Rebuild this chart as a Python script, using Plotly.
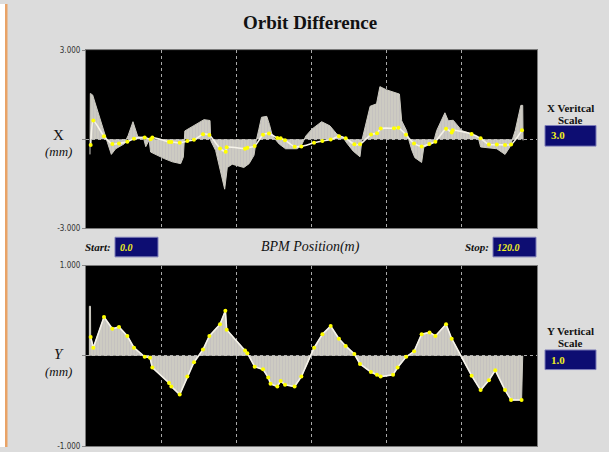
import plotly.graph_objects as go

W, H = 609, 452

# ---------------- data ----------------
# X plane: BPM readings (position m, difference mm)
x_bpm_pos = [1.24, 1.95, 4.79, 7.01, 8.78, 11.0, 12.77, 15.61, 17.2, 17.65,
             22.09, 22.71, 24.93, 26.96, 28.74, 31.13, 32.82, 35.66, 37.17, 37.43,
             42.31, 42.93, 44.88, 47.1, 48.7, 50.91, 51.8, 52.95, 55.53, 57.3,
             60.67, 62.89, 65.11, 67.32, 69.1, 71.4, 72.91, 75.84, 77.43, 78.41,
             81.96, 83.11, 85.15, 87.28, 89.32, 91.36, 92.96, 95.8, 97.3, 97.57,
             102.6, 105.0, 107.2, 109.3, 111.5, 113.1, 116.0]
x_bpm_diff = [-0.19, 0.63, 0.10, -0.16, -0.14, -0.08, 0.02, 0.06, 0.0, 0.06,
              -0.09, -0.09, -0.12, -0.06, -0.02, 0.17, 0.14, -0.31, -0.42, -0.27,
              -0.32, -0.29, -0.23, 0.15, 0.19, 0.04, 0.03, -0.03, -0.25, -0.24,
              -0.12, -0.06, -0.01, 0.10, 0.03, -0.17, -0.17, 0.16, 0.20, 0.36,
              0.37, 0.39, 0.15, -0.14, -0.24, -0.16, -0.08, 0.35, 0.23, 0.30,
              0.18, 0.03, -0.18, -0.18, -0.19, -0.18, 0.30]

# X plane: gray difference envelope
x_env_pos = [1.06, 1.15, 1.77, 2.84, 3.9, 4.97, 5.68, 6.74, 7.9, 10.1,
             11.2, 12.5, 13.2, 13.8, 15.3, 15.9, 16.8, 17.2, 20.8, 23.0,
             25.2, 25.9, 26.3, 29.6, 31.4, 33.0, 33.2, 34.5, 35.8, 36.9,
             37.6, 38.9, 42.0, 43.4, 44.7, 45.3, 46.0, 46.7, 48.1, 48.8,
             49.6, 51.4, 53.1, 56.2, 57.3, 58.5, 60.1, 62.7, 64.9, 66.7,
             68.5, 69.4, 71.1, 72.9, 73.4, 74.0, 75.6, 77.3, 78.2, 80.0,
             83.4, 84.0, 85.3, 85.9, 86.7, 87.5, 89.3, 89.9, 92.4, 93.3,
             95.5, 96.4, 97.7, 100.0, 102.6, 104.4, 105.0, 109.3, 111.5, 112.8,
             113.4, 114.2, 115.7, 116.2, 116.3]
x_env_diff = [-0.51, 1.54, 1.49, 1.05, 0.55, 0.15, -0.10, -0.51, -0.32, -0.16,
              0.12, 0.59, 0.28, 0.08, 0.04, -0.25, -0.03, -0.43, -0.65, -0.76,
              -0.82, -0.60, 0.28, 0.52, 0.66, 0.63, -0.05, -0.38, -1.04, -1.68,
              -0.95, -0.84, -0.95, -0.82, -0.54, -0.05, 0.34, 0.74, 0.77, 0.50,
              0.11, -0.16, -0.32, -0.32, -0.21, 0.11, 0.34, 0.59, 0.45, 0.18,
              0.04, -0.13, -0.40, -0.59, -0.04, 0.29, 1.11, 1.19, 1.77, 1.66,
              1.52, 0.62, 0.29, -0.02, -0.37, -0.62, -0.78, -0.26, -0.13, 0.29,
              0.89, 0.62, 0.64, 0.29, 0.18, 0.04, -0.26, -0.32, -0.51, -0.26,
              -0.04, 0.29, 1.14, 1.14, -0.04]

# Y plane: BPM readings
y_bpm_pos = [1.24, 1.95, 4.79, 7.01, 8.78, 11.0, 12.77, 15.61, 17.03, 17.65,
             22.09, 22.71, 24.93, 26.96, 28.74, 31.13, 32.82, 35.66, 37.08, 37.43,
             42.31, 42.93, 44.88, 47.1, 48.5, 49.1, 50.9, 51.8, 52.95, 55.5,
             57.3, 60.7, 62.9, 65.1, 67.3, 69.1, 71.4, 72.9, 75.8, 77.4,
             78.4, 81.7, 82.9, 85.2, 87.3, 89.3, 91.4, 92.96, 95.8, 97.3,
             102.6, 105.0, 107.2, 108.9, 111.5, 113.1, 115.9]
y_bpm_diff = [0.21, 0.09, 0.43, 0.30, 0.32, 0.22, 0.09, -0.01, -0.02, -0.13,
              -0.30, -0.34, -0.43, -0.23, -0.07, 0.07, 0.22, 0.35, 0.50, 0.29,
              0.06, 0.03, -0.12, -0.15, -0.24, -0.31, -0.34, -0.28, -0.32, -0.34,
              -0.23, 0.09, 0.24, 0.33, 0.19, 0.11, 0.02, -0.09, -0.18, -0.21,
              -0.23, -0.21, -0.13, -0.01, 0.05, 0.24, 0.26, 0.22, 0.35, 0.19,
              -0.22, -0.38, -0.27, -0.16, -0.38, -0.49, -0.49]

# Y plane: gray envelope (leading spike, BPM profile, closing edge)
y_env_pos = [0.9, 0.9, 1.2] + y_bpm_pos + [116.2]
y_env_diff = [0.0, 0.55, 0.55] + y_bpm_diff + [0.0]

x_range = [0, 120]
x_scale = 3.0
y_scale = 1.0
grid_pos = [0, 20, 40, 60, 80, 100, 120]

# ---------------- styling helpers ----------------
BG = "#dcdcdc"
FILL = "#cdcbc2"
SERIF = "Liberation Serif, Times New Roman, serif"
NARROW = "Liberation Sans Narrow, Arial Narrow, DejaVu Sans Condensed, sans-serif"


def px(x):
    return x / W


def py(y):
    return 1 - y / H


fig = go.Figure()

# X plane traces
fig.add_trace(go.Scatter(
    x=x_env_pos, y=x_env_diff, mode="lines", fill="tozeroy",
    line=dict(color=FILL, width=1), fillcolor=FILL,
    fillpattern=dict(shape="|", fgcolor="#b7b3bd", bgcolor=FILL, size=3, solidity=0.25),
    xaxis="x", yaxis="y", hoverinfo="skip", showlegend=False))
fig.add_trace(go.Scatter(
    x=x_bpm_pos, y=x_bpm_diff, mode="lines+markers",
    line=dict(color="#f6f3ea", width=1.6, shape="spline", smoothing=0.6),
    marker=dict(color="#ffff00", size=4),
    xaxis="x", yaxis="y", showlegend=False))

# Y plane traces
fig.add_trace(go.Scatter(
    x=y_env_pos, y=y_env_diff, mode="lines", fill="tozeroy",
    line=dict(color=FILL, width=1), fillcolor=FILL,
    fillpattern=dict(shape="|", fgcolor="#b7b3bd", bgcolor=FILL, size=3, solidity=0.25),
    xaxis="x2", yaxis="y2", hoverinfo="skip", showlegend=False))
fig.add_trace(go.Scatter(
    x=y_bpm_pos, y=y_bpm_diff, mode="lines+markers",
    line=dict(color="#f6f3ea", width=1.6),
    marker=dict(color="#ffff00", size=4),
    xaxis="x2", yaxis="y2", showlegend=False))

GRIDC = "#a8a8a8"
xdom = [px(86), px(537)]
common_x = dict(range=x_range, domain=xdom, tickvals=grid_pos, showticklabels=False,
                showgrid=True, gridcolor=GRIDC, griddash="3px,3px", gridwidth=1,
                zeroline=False, showline=True, linecolor="#7a7a7a", linewidth=1,
                mirror=True, ticks="", fixedrange=True)

fig.update_layout(
    width=W, height=H, autosize=False,
    margin=dict(l=0, r=0, t=0, b=0),
    paper_bgcolor=BG, plot_bgcolor="black",
    xaxis=dict(common_x, anchor="y"),
    xaxis2=dict(common_x, anchor="y2"),
    yaxis=dict(domain=[py(229), py(47)], range=[-x_scale, x_scale],
               tickvals=[-x_scale, 0, x_scale], ticktext=["-3.000", "", "3.000"],
               tickfont=dict(family=NARROW, size=8, color="#333333"),
               ticks="outside", ticklen=3, tickcolor="#888888",
               showgrid=True, gridcolor=GRIDC, griddash="3px,3px",
               zeroline=False, showline=True, linecolor="#7a7a7a", mirror=True,
               anchor="x", fixedrange=True),
    yaxis2=dict(domain=[py(451), py(267)], range=[-y_scale, y_scale],
                tickvals=[-y_scale, 0, y_scale], ticktext=["-1.000", "", "1.000"],
                tickfont=dict(family=NARROW, size=8, color="#333333"),
                ticks="outside", ticklen=3, tickcolor="#888888",
                showgrid=True, gridcolor=GRIDC, griddash="3px,3px",
                zeroline=False, showline=True, linecolor="#7a7a7a", mirror=True,
                anchor="x2", fixedrange=True),
)

shapes = [
    # left white strip and orange edge
    dict(type="rect", xref="paper", yref="paper", x0=0, x1=px(5), y0=0, y1=1,
         fillcolor="white", line=dict(width=0), layer="below"),
    dict(type="rect", xref="paper", yref="paper", x0=px(5), x1=px(7.5), y0=0, y1=1,
         fillcolor="#e9a367", line=dict(width=0), layer="below"),
]
boxes = [(115, 158, 238, 258), (493, 536, 238, 258),
         (545, 596, 124, 145), (545, 596, 353, 373)]
for x0, x1, y0, y1 in boxes:
    shapes.append(dict(type="rect", xref="paper", yref="paper",
                       x0=px(x0), x1=px(x1), y0=py(y1), y1=py(y0),
                       fillcolor="#0d0d72", line=dict(color="#7c7cb8", width=1)))
fig.update_layout(shapes=shapes)

ann = []


def text(x, y, s, size, bold=False, italic=False, color="#111111", xanchor="center", family=SERIF):
    if bold:
        s = "<b>" + s + "</b>"
    if italic:
        s = "<i>" + s + "</i>"
    ann.append(dict(x=px(x), y=py(y), xref="paper", yref="paper", text=s, showarrow=False,
                    xanchor=xanchor, yanchor="middle",
                    font=dict(family=family, size=size, color=color)))


text(310, 19, "Orbit Difference", 19, bold=True)
text(58, 134, "X", 15)
text(58, 150, "(mm)", 13, italic=True)
text(59, 357, "Y", 15, italic=True)
text(58, 375, "(mm)", 13, italic=True)
text(310, 248, "BPM Position(m)", 14, italic=True)
text(113, 248, "Start:", 11, bold=True, italic=True, xanchor="right")
text(491, 248, "Stop:", 11, bold=True, italic=True, xanchor="right")
text(118, 248, "0.0", 10, bold=True, italic=True, color="#f0f020", xanchor="left")
text(495, 248, "120.0", 10, bold=True, italic=True, color="#f0f020", xanchor="left")
text(570, 106, "X Veritcal", 11, bold=True)
text(570, 118, "Scale", 11, bold=True)
text(549, 134, "3.0", 11, bold=True, color="#f0f020", xanchor="left")
text(570, 334, "Y Vertical", 11, bold=True)
text(570, 346, "Scale", 11, bold=True)
text(549, 363, "1.0", 11, bold=True, color="#f0f020", xanchor="left")
fig.update_layout(annotations=ann)

fig.write_html("out.html",
               config={"displayModeBar": False, "staticPlot": True},
               post_script="document.body.style.margin='0px';document.body.style.overflow='hidden';")
